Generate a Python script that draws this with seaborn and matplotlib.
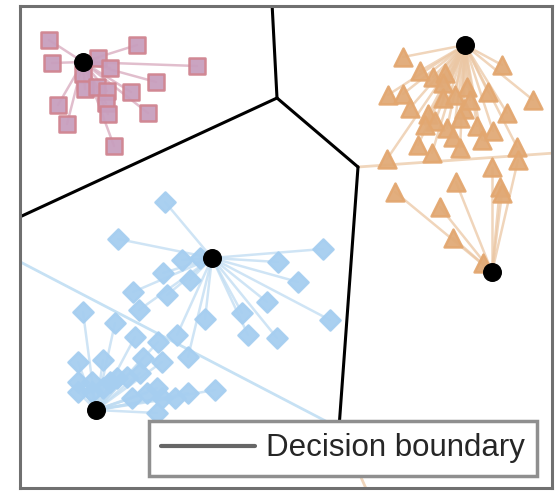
import numpy as np
import pandas as pd
import seaborn as sns
import matplotlib.pyplot as plt
from matplotlib.lines import Line2D

# cluster points
pink_x = [0.58, 2.34, 0.64, 1.56, 1.80, 3.54, 2.72, 1.26, 1.30, 1.54, 1.74, 2.22, 1.72, 1.76, 2.56, 0.76, 0.94, 1.88]
pink_y = [8.96, 8.86, 8.50, 8.60, 8.40, 8.44, 8.12, 8.28, 7.98, 8.02, 7.94, 7.92, 7.70, 7.48, 7.50, 7.66, 7.28, 6.84]

orange_x = [7.66, 9.64, 8.00, 8.26, 8.50, 8.94, 8.46, 9.36, 7.36, 7.66, 8.46, 10.26, 7.80, 8.16, 8.88,
            9.74, 8.30, 8.80, 8.54, 9.14, 9.46, 8.66, 7.96, 8.24, 8.80, 9.94, 7.34, 8.70, 9.00, 8.10,
            9.24, 9.96, 9.44, 9.60, 9.64, 8.72, 7.50, 8.40, 8.66, 9.26]
orange_y = [8.62, 8.46, 8.34, 8.22, 8.30, 8.02, 8.10, 7.92, 7.86, 7.88, 7.80, 7.76, 7.60, 7.48, 7.58,
            7.50, 7.34, 7.40, 7.20, 7.24, 7.14, 7.02, 6.86, 6.70, 6.80, 6.82, 6.58, 7.86, 7.76, 7.26,
            6.96, 6.56, 6.42, 6.02, 5.90, 6.12, 5.92, 5.62, 5.00, 4.50]

blue_x = [2.90, 1.96, 3.24, 3.60, 2.86, 3.40, 2.26, 2.94, 2.38, 3.70, 4.44, 4.94, 5.56, 5.16, 6.06,
          6.20, 4.56, 5.14, 3.14, 1.26, 1.90, 2.30, 2.76, 3.36, 1.16, 1.66, 2.46, 2.84, 1.16, 1.44,
          1.80, 1.94, 2.14, 2.40, 2.74, 1.16, 1.44, 1.66, 2.24, 2.54, 2.84, 3.10, 3.36, 3.90, 2.74]
blue_y = [5.72, 4.98, 4.56, 4.60, 4.30, 4.16, 3.92, 3.86, 3.56, 3.38, 3.50, 3.72, 4.12, 4.52, 4.78,
          3.36, 3.06, 3.00, 3.06, 3.52, 3.30, 3.02, 2.92, 2.62, 2.52, 2.56, 2.60, 2.52, 2.12, 2.12,
          2.12, 2.20, 2.22, 2.30, 2.00, 1.92, 1.92, 2.00, 1.80, 1.90, 1.80, 1.80, 1.90, 1.96, 1.50]

# cluster centres
center_x = [1.26, 8.90, 9.44, 3.84, 1.52]
center_y = [8.52, 8.86, 4.32, 4.60, 1.56]
center_cls = ["pink", "orange", "orange", "blue", "blue"]

# decision boundary segments (x0, y0, x1, y1)
black_edges = [(5.04, 9.70, 5.14, 7.80), (5.14, 7.80, -0.05, 5.40),
               (5.14, 7.80, 6.76, 6.42), (6.76, 6.42, 6.38, 1.20)]
blue_edges = [(-0.05, 4.55, 6.38, 1.20)]
orange_edges = [(6.76, 6.42, 10.70, 6.70), (6.38, 1.20, 6.96, -0.10)]

points = pd.concat([
    pd.DataFrame({"x": pink_x, "y": pink_y, "cls": "pink"}),
    pd.DataFrame({"x": orange_x, "y": orange_y, "cls": "orange"}),
    pd.DataFrame({"x": blue_x, "y": blue_y, "cls": "blue"}),
], ignore_index=True)

face = {"pink": "#c89fbe", "orange": "#e1aa77", "blue": "#a6cef0"}
edge = {"pink": "#d08490", "orange": "#e3a770", "blue": "#a6cef0"}
line_c = {"pink": "#d8a9bd", "orange": "#ebc7a4", "blue": "#bfdcf2"}
marker = {"pink": "s", "orange": "^", "blue": "D"}
size = {"pink": 120, "orange": 165, "blue": 105}

sns.set_style("white")
plt.rcParams["font.family"] = ["Liberation Sans", "DejaVu Sans"]

fig = plt.figure(figsize=(5.6, 4.91), dpi=100)
ax = fig.add_axes([20 / 560, 3 / 491, 532 / 560, 482 / 491])

# link every point to its closest centre of the same class
cx = np.array(center_x)
cy = np.array(center_y)
cc = np.array(center_cls)
for _, r in points.iterrows():
    idx = np.where(cc == r.cls)[0]
    d = (cx[idx] - r.x) ** 2 + (cy[idx] - r.y) ** 2
    k = idx[np.argmin(d)]
    ax.plot([r.x, cx[k]], [r.y, cy[k]], color=line_c[r.cls], lw=1.8, alpha=0.75, zorder=1)

for x0, y0, x1, y1 in blue_edges:
    ax.plot([x0, x1], [y0, y1], color="#c6e1f4", lw=2, zorder=1)
for x0, y0, x1, y1 in orange_edges:
    ax.plot([x0, x1], [y0, y1], color="#f0d6bc", lw=2, zorder=1)
for x0, y0, x1, y1 in black_edges:
    ax.plot([x0, x1], [y0, y1], color="black", lw=2.2, zorder=2)

for c in ["pink", "orange", "blue"]:
    sub = points[points.cls == c]
    sns.scatterplot(data=sub, x="x", y="y", marker=marker[c], s=size[c], color=face[c],
                    edgecolor=edge[c], linewidth=1.8, alpha=0.95, ax=ax, zorder=3, legend=False)

sns.scatterplot(x=center_x, y=center_y, color="black", s=160, edgecolor="black", ax=ax, zorder=4, legend=False)

ax.set_xlim(0, 10.64)
ax.set_ylim(0, 9.64)
ax.set_xticks([])
ax.set_yticks([])
ax.set_xlabel("")
ax.set_ylabel("")
for s in ax.spines.values():
    s.set_color("#707070")
    s.set_linewidth(2.2)

handle = Line2D([], [], color="#666666", lw=3)
leg = ax.legend([handle], ["Decision boundary"], loc="lower right",
                bbox_to_anchor=(0.972, 0.025), borderaxespad=0, fontsize=22.5,
                handlelength=3.0, handletextpad=0.35, borderpad=0.4,
                fancybox=False, framealpha=1)
leg.get_frame().set_edgecolor("#8f8f8f")
leg.get_frame().set_linewidth(2.5)
leg.set_zorder(10)

fig.savefig("out.png", dpi=100)
